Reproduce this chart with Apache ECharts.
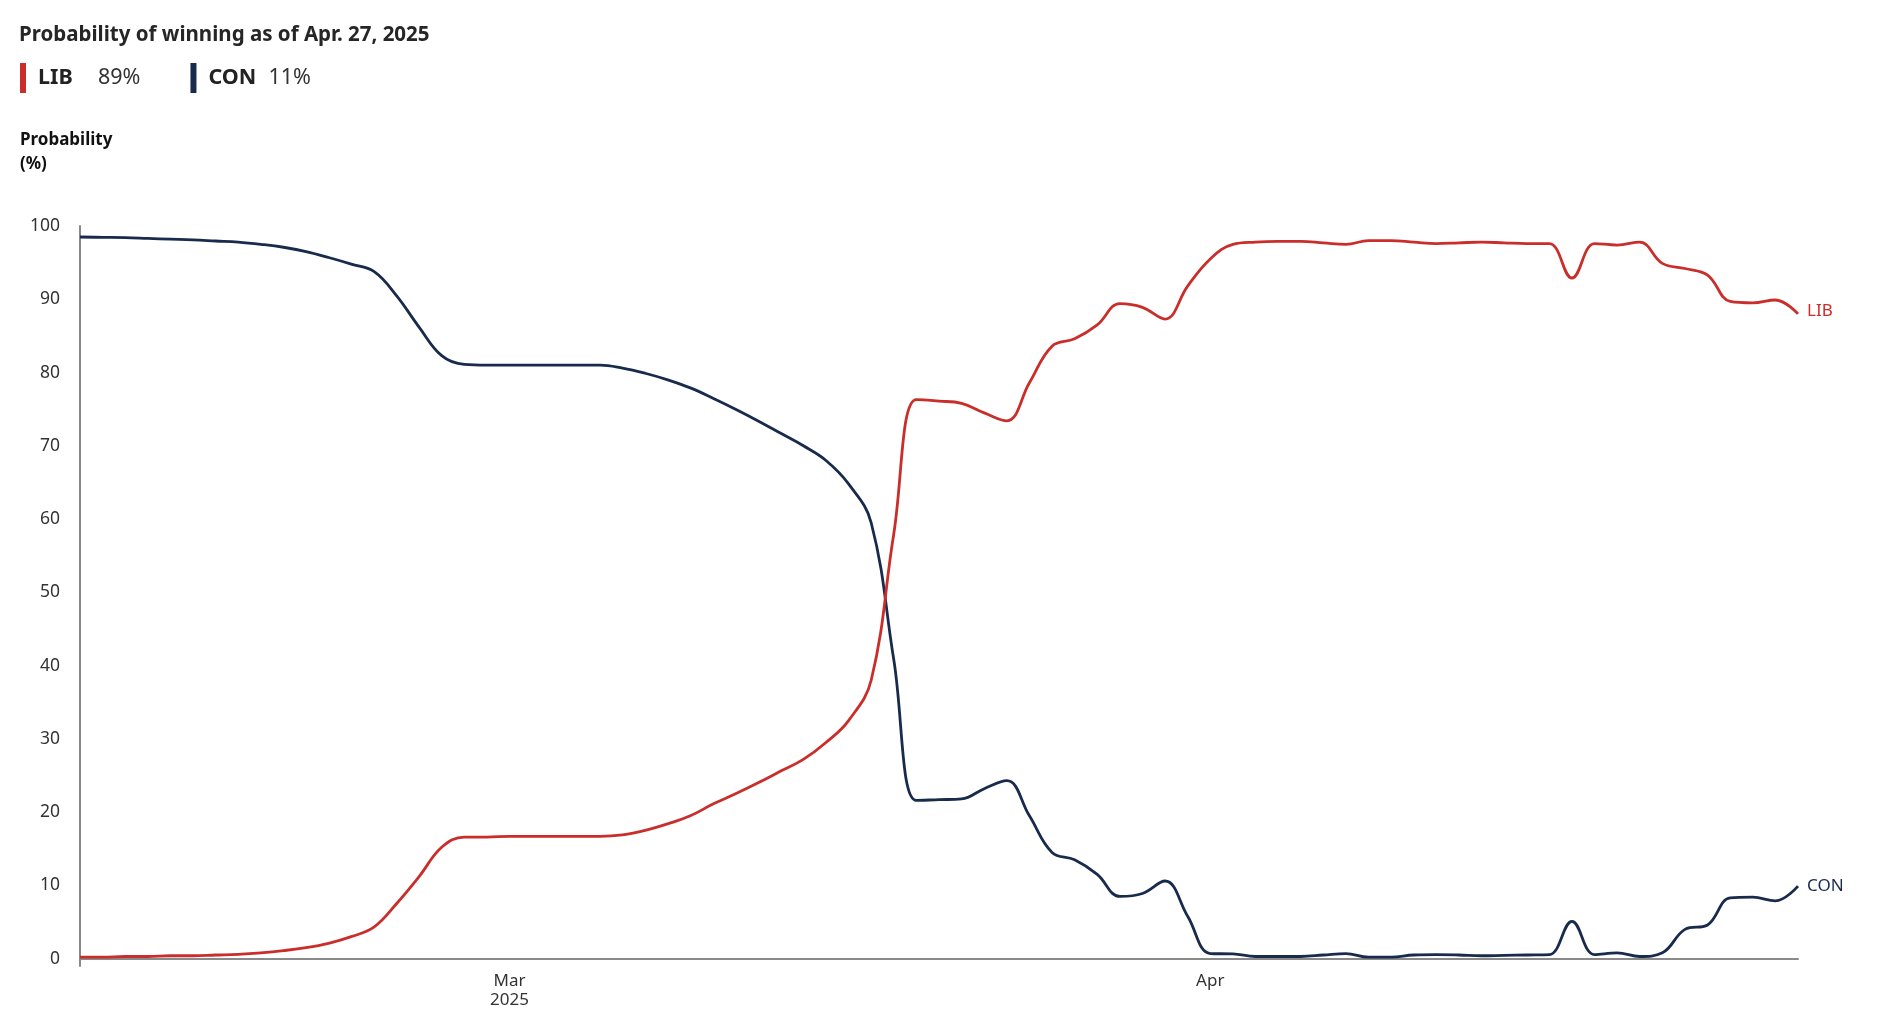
<!DOCTYPE html>
<html>
<head>
<meta charset="utf-8">
<script src="https://cdn.jsdelivr.net/npm/echarts@6/dist/echarts.min.js"></script>
<style>
html,body{margin:0;padding:0;background:#fff;}
#chart{width:1903px;height:1010px;}
</style>
</head>
<body>
<div id="chart"></div>
<script>
const dates = [
'2025-02-10','2025-02-11','2025-02-12','2025-02-13','2025-02-14','2025-02-15','2025-02-16','2025-02-17','2025-02-18','2025-02-19',
'2025-02-20','2025-02-21','2025-02-22','2025-02-23','2025-02-24','2025-02-25','2025-02-26','2025-02-27','2025-02-28',
'2025-03-01','2025-03-02','2025-03-03','2025-03-04','2025-03-05','2025-03-06','2025-03-07','2025-03-08','2025-03-09','2025-03-10',
'2025-03-11','2025-03-12','2025-03-13','2025-03-14','2025-03-15','2025-03-16','2025-03-17','2025-03-18','2025-03-19','2025-03-20',
'2025-03-21','2025-03-22','2025-03-23','2025-03-24','2025-03-25','2025-03-26','2025-03-27','2025-03-28','2025-03-29','2025-03-30','2025-03-31',
'2025-04-01','2025-04-02','2025-04-03','2025-04-04','2025-04-05','2025-04-06','2025-04-07','2025-04-08','2025-04-09','2025-04-10',
'2025-04-11','2025-04-12','2025-04-13','2025-04-14','2025-04-15','2025-04-16','2025-04-17','2025-04-18','2025-04-19','2025-04-20',
'2025-04-21','2025-04-22','2025-04-23','2025-04-24','2025-04-25','2025-04-26','2025-04-27'
];

const libValues = [
0.2,0.2,0.3,0.3,0.4,0.4,0.5,0.6,0.8,1.1,
1.5,2.1,3.0,4.3,7.5,11.2,15.2,16.6,16.6,
16.7,16.7,16.7,16.7,16.7,16.9,17.5,18.4,19.5,21.1,
22.5,24.0,25.6,27.2,29.5,32.5,38.0,58.0,76.3,76.1,
75.8,74.5,73.4,78.6,83.6,84.6,86.5,89.4,88.9,87.3,91.8,
95.5,97.5,97.8,97.9,97.9,97.7,97.5,98.0,98.0,97.8,
97.6,97.7,97.8,97.7,97.6,97.6,92.9,97.6,97.4,97.8,
94.9,94.2,93.3,89.7,89.5,89.9,88.0
];

const conValues = [
98.5,98.45,98.4,98.3,98.2,98.1,97.95,97.8,97.5,97.1,
96.5,95.7,94.8,93.8,90.5,86.2,82.3,81.1,81.0,
81.0,81.0,81.0,81.0,81.0,80.6,79.9,79.0,77.9,76.5,
75.0,73.4,71.7,70.0,68.0,64.8,59.5,40.8,21.6,21.7,
21.8,23.2,24.3,19.5,14.5,13.5,11.5,8.5,8.9,10.6,5.8,
0.7,0.65,0.3,0.3,0.3,0.5,0.7,0.2,0.2,0.5,
0.55,0.5,0.4,0.45,0.5,0.55,5.1,0.55,0.8,0.3,
0.8,4.0,4.6,8.3,8.4,7.9,9.9
];

const seriesNames = ['LIB', 'CON'];
const seriesColors = ['#c92e2b', '#192b4d'];
const legendPct = [89, 11];
const yTicks = [0, 10, 20, 30, 40, 50, 60, 70, 80, 90, 100];
const xTickLabels = { '2025-03-01': 'Mar\n2025', '2025-04-01': 'Apr' };
const titleText = 'Probability of winning as of Apr. 27, 2025';
const yAxisTitle = 'Probability\n(%)';

const FONT = '"Noto Sans", "Open Sans", sans-serif';

const chart = echarts.init(document.getElementById('chart'), null, { renderer: 'canvas' });

const pctByName = {};
seriesNames.forEach((n, i) => { pctByName[n] = legendPct[i]; });

const option = {
  animation: false,
  backgroundColor: '#fff',
  color: seriesColors,
  title: [
    {
      text: titleText,
      left: 14, top: 20,
      textStyle: { fontFamily: FONT, fontSize: 20.5, fontWeight: 'bold', color: '#262626' }
    },
    {
      text: yAxisTitle,
      left: 15, top: 123,
      textStyle: { fontFamily: FONT, fontSize: 17, fontWeight: 'bold', color: '#111', lineHeight: 24 }
    }
  ],
  legend: {
    left: 15, top: 58,
    icon: 'rect',
    itemWidth: 6, itemHeight: 30,
    itemGap: 50,
    selectedMode: false,
    data: seriesNames,
    formatter: function (name) { return '{n|' + name + '}{p|' + pctByName[name] + '%}'; },
    textStyle: {
      fontFamily: FONT,
      rich: {
        n: { fontFamily: FONT, fontSize: 21.5, fontWeight: 'bold', color: '#222', width: 60, padding: [0, 0, 0, 7] },
        p: { fontFamily: FONT, fontSize: 21.5, color: '#333' }
      }
    }
  },
  grid: { left: 80, right: 105, top: 226, bottom: 44, containLabel: false },
  xAxis: {
    type: 'category',
    data: dates,
    boundaryGap: false,
    axisLine: { show: true, lineStyle: { color: '#8a8a8a', width: 2 } },
    axisTick: { show: false },
    splitLine: { show: false },
    axisLabel: {
      interval: function (idx, val) { return xTickLabels.hasOwnProperty(val); },
      formatter: function (val) { return xTickLabels[val] || ''; },
      fontFamily: FONT, fontSize: 17, color: '#333', lineHeight: 19, margin: 6
    }
  },
  yAxis: {
    type: 'value',
    min: -1, max: 100,
    axisLine: { show: true, lineStyle: { color: '#8a8a8a', width: 2 } },
    axisTick: { show: false },
    splitLine: { show: false },
    axisLabel: {
      customValues: yTicks,
      fontFamily: FONT, fontSize: 17.5, color: '#333', margin: 20
    }
  },
  series: seriesNames.map(function (name, i) {
    return {
      name: name,
      type: 'line',
      data: i === 0 ? libValues : conValues,
      smooth: 0.4,
      symbol: 'none',
      lineStyle: { width: 2.8, color: seriesColors[i] },
      itemStyle: { color: seriesColors[i] },
      endLabel: {
        show: true,
        formatter: '{a}',
        color: seriesColors[i],
        fontFamily: FONT,
        fontSize: 17,
        distance: 9,
        offset: i === 0 ? [0, -3] : [0, 0]
      },
      z: i === 0 ? 3 : 2
    };
  })
};

chart.setOption(option);
</script>
</body>
</html>
